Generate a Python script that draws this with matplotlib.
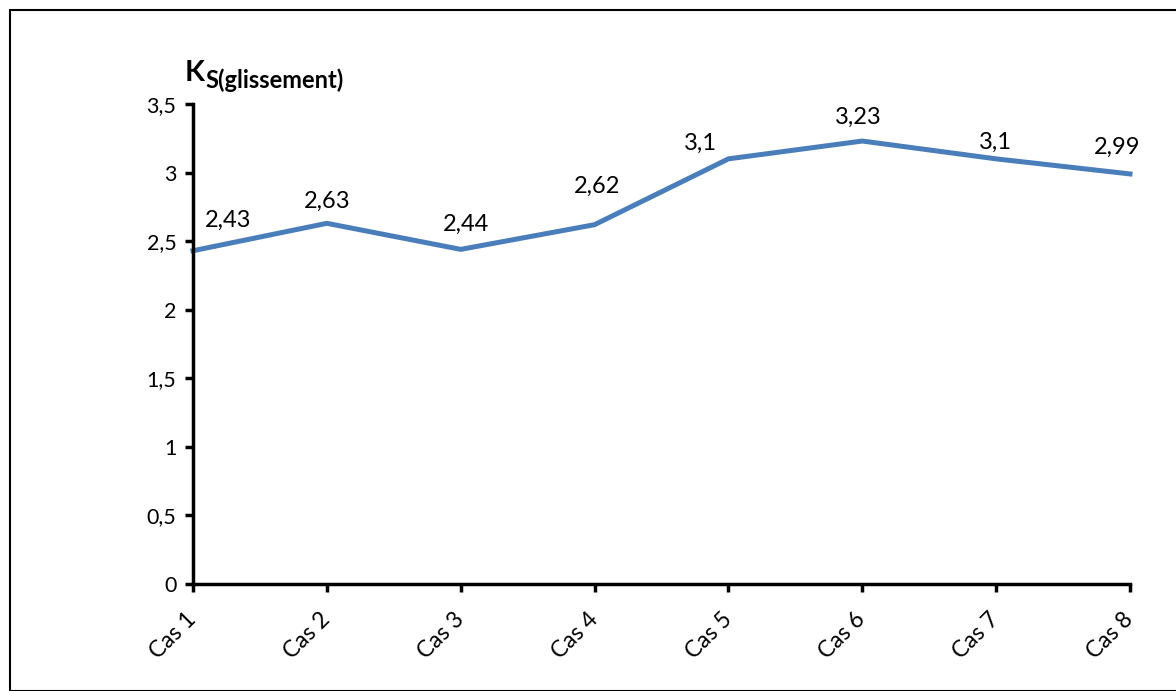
import matplotlib
matplotlib.use("Agg")
import matplotlib.pyplot as plt
from matplotlib.patches import Rectangle

categories = ["Cas 1", "Cas 2", "Cas 3", "Cas 4", "Cas 5", "Cas 6", "Cas 7", "Cas 8"]
values = [2.43, 2.63, 2.44, 2.62, 3.10, 3.23, 3.10, 2.99]
value_labels = ["2,43", "2,63", "2,44", "2,62", "3,1", "3,23", "3,1", "2,99"]
yticks = [0, 0.5, 1, 1.5, 2, 2.5, 3, 3.5]
ytick_labels = ["0", "0,5", "1", "1,5", "2", "2,5", "3", "3,5"]

# label offsets in pixels (dx, dy)
label_offsets = [(35, 30), (0, 22), (5, 25), (2, 38), (-28, 16), (-4, 24), (-1, 17), (-13, 27)]

plt.rcParams['font.family'] = ['Lato', 'DejaVu Sans']

fig = plt.figure(figsize=(11.76, 6.91), dpi=100)
W, H = 1176, 691
fig.patches.append(Rectangle((10 / W, 0), 1, 1 - 10 / H, transform=fig.transFigure,
                             fill=False, edgecolor='black', linewidth=1.5))

ax = fig.add_axes([193 / W, 1 - 584 / H, (1130 - 193) / W, (584 - 104) / H])
x = list(range(len(categories)))
ax.plot(x, values, color='#4A7EBB', linewidth=3.6, solid_joinstyle='round', clip_on=False)
ax.set_xlim(0, len(categories) - 1)
ax.set_ylim(0, 3.5)
ax.set_yticks(yticks)
ax.set_yticklabels(ytick_labels, fontsize=15.5)
ax.set_xticks(x)
ax.set_xticklabels(categories, fontsize=16.5, rotation=45, ha='right', va='center',
                   rotation_mode='anchor')
for s in ['top', 'right']:
    ax.spines[s].set_visible(False)
for s in ['left', 'bottom']:
    ax.spines[s].set_linewidth(2.5)
ax.tick_params(axis='both', direction='out', length=6, width=2.5)
ax.tick_params(axis='y', pad=6)
ax.tick_params(axis='x', pad=17)

for xi, v, lab, (dx, dy) in zip(x, values, value_labels, label_offsets):
    ax.annotate(lab, (xi, v), xytext=(dx * 0.72, dy * 0.72), textcoords='offset points',
                ha='center', va='center', fontsize=17)

fig.text(185 / W, 1 - 81 / H, "K", fontsize=21, fontweight='bold', ha='left', va='baseline')
fig.text(205 / W, 1 - 88 / H, "S(glissement)", fontsize=17, fontweight='bold', ha='left', va='baseline')

fig.savefig("out.png", dpi=100)
